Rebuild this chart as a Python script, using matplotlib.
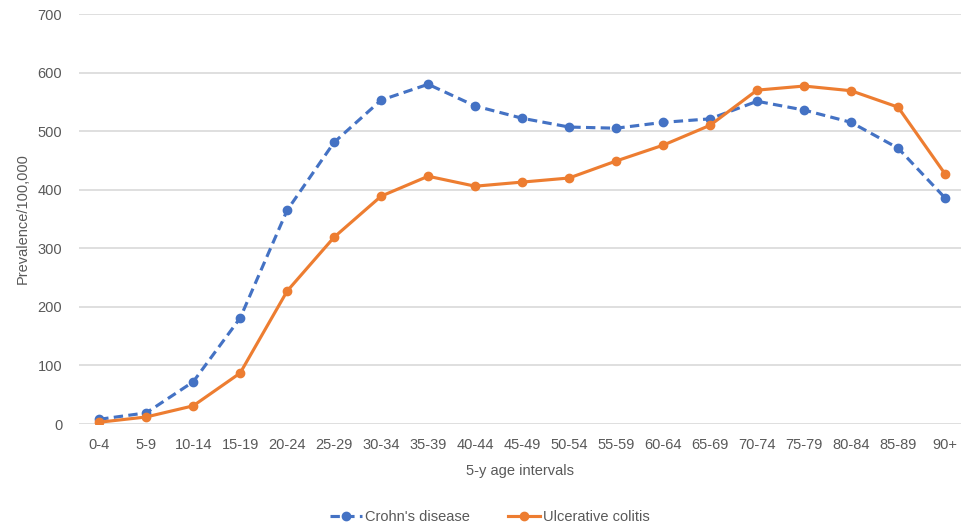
import matplotlib
matplotlib.use('Agg')
import matplotlib.pyplot as plt

# Age groups and prevalence per 100,000
age_groups = ['0-4', '5-9', '10-14', '15-19', '20-24', '25-29', '30-34', '35-39',
              '40-44', '45-49', '50-54', '55-59', '60-64', '65-69', '70-74',
              '75-79', '80-84', '85-89', '90+']
crohns = [8, 19, 72, 181, 365, 481, 553, 580, 543, 522, 507, 505, 515, 521,
          551, 536, 515, 471, 386]
colitis = [3, 12, 31, 87, 227, 319, 389, 423, 406, 413, 420, 449, 476, 510,
           570, 577, 569, 541, 427]

plt.rcParams['font.family'] = ['Liberation Sans', 'DejaVu Sans']

text_color = '#595959'
blue = '#4472C4'
orange = '#ED7D31'

fig = plt.figure(figsize=(9.61, 5.29), dpi=100)
ax = fig.add_axes([79 / 961, 105 / 529, 1 - 79 / 961, (424 - 14) / 529])

x = list(range(len(age_groups)))
ax.plot(x, crohns, color=blue, lw=2.25, linestyle=(0, (3, 1.7)),
        marker='o', markersize=6, label="Crohn's disease", zorder=3)
ax.plot(x, colitis, color=orange, lw=2.25, marker='o', markersize=6,
        label='Ulcerative colitis', zorder=3)

ax.set_xlim(-0.43, 18.34)
ax.set_ylim(0, 700)
ax.set_yticks(range(0, 701, 100))
ax.set_xticks(x)
ax.set_xticklabels(age_groups)
ax.grid(axis='y', color='#D9D9D9', lw=1.2)
ax.set_axisbelow(True)
for s in ax.spines.values():
    s.set_visible(False)
ax.tick_params(length=0, colors=text_color, labelsize=10.5)
ax.tick_params(axis='y', pad=12)
ax.tick_params(axis='x', pad=10)

ax.set_xlabel('5-y age intervals', color=text_color, fontsize=10.5, labelpad=9)
ax.set_ylabel('Prevalence/100,000', color=text_color, fontsize=10.5, labelpad=6)

fig.legend(loc='center', bbox_to_anchor=(490 / 961, 1 - 517 / 529), ncol=2,
           frameon=False, fontsize=10.5, labelcolor=text_color,
           handlelength=2.2, columnspacing=2.6, handletextpad=0.2)

fig.savefig('out.png', dpi=100)
